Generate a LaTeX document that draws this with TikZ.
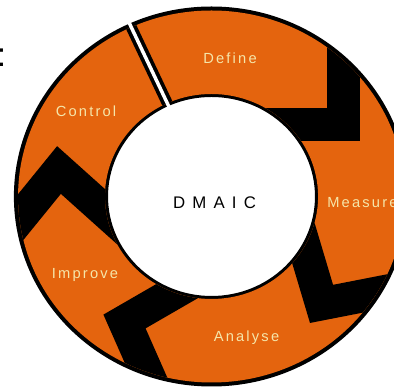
\documentclass[tikz,border=0pt]{standalone}
\usepackage{fontspec}
\setmainfont{Liberation Sans}
\newfontfamily\spaced[LetterSpace=15]{Liberation Sans}
\usetikzlibrary{calc}
\definecolor{dmaicorange}{RGB}{228,100,14}
\definecolor{labelcream}{RGB}{245,230,170}
\tikzset{
  phase/.style={text=labelcream, font=\spaced\fontsize{11}{13}\selectfont, inner sep=0pt},
  chevron/.style={line width=24.75pt, line join=miter},
}
\begin{document}
\begin{tikzpicture}[x=0.75pt, y=0.75pt]
\useasboundingbox (-211.5,-191.5) rectangle (182.5,196.5);
\begin{scope}[xscale=1.04]
\fill[even odd rule] (0,0) circle (190) (0,0) circle (99.5);
\begin{scope}[even odd rule]
\clip (0,0) circle (186) (0,0) circle (102.5);
\fill[dmaicorange] (0,0) circle (200);
\draw[line width=8.25pt] (114.5:90) -- (114.5:200);
\foreach \mx/\my/\aout/\ain in {127.4/72/90/180, 105.8/-107.4/11.5/106, -83.65/-125/-67/31, -146.65/26.5/232/-43} {
  \draw[chevron] ($(\mx,\my)+(\aout:110)$) -- (\mx,\my) -- ($(\mx,\my)+(\ain:120)$);
}
\end{scope}
\draw[white, line width=2.6pt] (114.5:92) -- (114.5:198);
\end{scope}
\node[phase, anchor=base] (define) at (18.5,133) {Define};
\node[phase, anchor=base west] (measure) at (115.5,-11.5) {Measure};
\node[phase, anchor=base] (analyse) at (35,-145.5) {Analyse};
\node[phase, anchor=base] (improve) at (-126.5,-82.5) {Improve};
\node[phase, anchor=base] (control) at (-125.5,79.5) {Control};
\node[font=\spaced\fontsize{12.6}{15}\selectfont, anchor=base, inner sep=0pt] (dmaic) at (3,-12.5) {D M A I C};
\node[font=\fontsize{25}{30}\selectfont, anchor=base west, inner sep=0pt] (cutoff) at (-215,129.5) {:};
\end{tikzpicture}
\end{document}
